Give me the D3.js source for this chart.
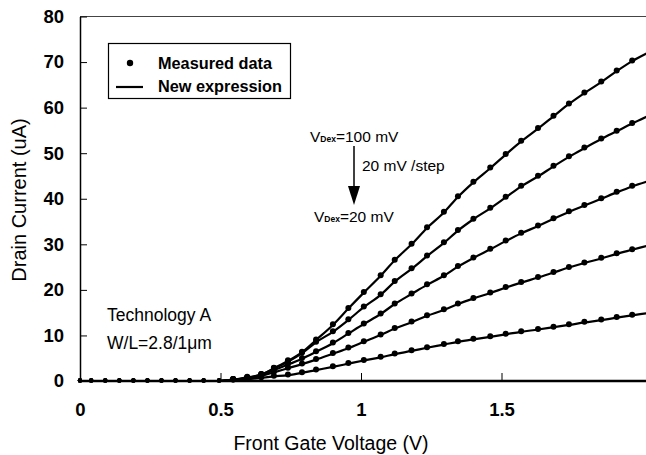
<!DOCTYPE html>
<meta charset="utf-8">
<script src="https://d3js.org/d3.v7.min.js"></script>
<style>
  body { margin: 0; background: #fff; }
  text { font-family: Arial, "Liberation Sans", sans-serif; fill: #000; }
</style>
<body>
<svg width="646" height="455"></svg>
<script>
    // gate voltage of the measured points (V)
    var vg = [0, 0.04, 0.09, 0.14, 0.19, 0.24, 0.29, 0.34, 0.39, 0.44, 0.495, 0.545, 0.595,
              0.645, 0.69, 0.74, 0.79, 0.84, 0.9, 0.955, 1.01, 1.07, 1.12, 1.18, 1.235, 1.295,
              1.345, 1.4, 1.46, 1.515, 1.57, 1.63, 1.685, 1.74, 1.795, 1.855, 1.91, 1.965];

    // drain current (uA) for each drain voltage step
    var id100 = [0, 0, 0, 0, 0, 0, 0, 0, 0, 0, 0, 0.3, 0.8,
                 1.4, 2.8, 4.4, 6.3, 9.0, 12.3, 15.9, 19.4, 23.1, 26.5, 30.0, 33.6, 37.0,
                 40.4, 43.6, 46.7, 49.7, 52.6, 55.4, 58.1, 60.8, 63.2, 65.6, 68.0, 70.2];
    var id80  = [0, 0, 0, 0, 0, 0, 0, 0, 0, 0, 0, 0.3, 0.7,
                 1.4, 2.7, 4.2, 6.1, 8.5, 10.8, 13.4, 16.2, 18.9, 21.8, 24.6, 27.4, 30.3,
                 33.0, 35.5, 37.9, 40.3, 42.7, 44.9, 47.1, 49.2, 51.1, 53.1, 54.8, 56.5];
    var id60  = [0, 0, 0, 0, 0, 0, 0, 0, 0, 0, 0, 0.3, 0.6,
                 1.3, 2.4, 3.6, 4.9, 6.4, 8.3, 10.4, 12.5, 14.7, 16.9, 19.1, 21.1, 23.1,
                 25.1, 27.0, 28.9, 30.7, 32.4, 34.0, 35.6, 37.1, 38.5, 40.0, 41.4, 42.7];
    var id40  = [0, 0, 0, 0, 0, 0, 0, 0, 0, 0, 0, 0.2, 0.5,
                 1.1, 1.9, 2.8, 3.7, 4.7, 6.0, 7.2, 8.6, 10.1, 11.5, 12.9, 14.3, 15.6,
                 16.9, 18.1, 19.3, 20.5, 21.6, 22.7, 23.8, 24.9, 25.9, 26.9, 27.9, 28.8];
    var id20  = [0, 0, 0, 0, 0, 0, 0, 0, 0, 0, 0, 0.2, 0.4,
                 0.7, 1.0, 1.3, 1.8, 2.4, 3.1, 3.8, 4.5, 5.2, 5.9, 6.6, 7.3, 8.0,
                 8.6, 9.15, 9.7, 10.25, 10.8, 11.3, 11.8, 12.3, 12.85, 13.35, 13.9, 14.4];

    // where the model curves leave the frame
    var vgEnd = 2.02;
    var idEnd = [72.0, 58.1, 43.8, 29.7, 14.9];

    var xTicks = [0, 0.5, 1, 1.5];
    var yTicks = [0, 10, 20, 30, 40, 50, 60, 70, 80];

    var series = [id100, id80, id60, id40, id20];

    var svg = d3.select('svg');

    var x = d3.scaleLinear().domain([0, 2]).range([80, 642]);
    var y = d3.scaleLinear().domain([0, 80]).range([381, 16.5]);

    // top frame line
    svg.append('line')
        .attr('x1', x(0)).attr('x2', 646)
        .attr('y1', y(80)).attr('y2', y(80))
        .attr('stroke', '#444').attr('stroke-width', 1);

    // curves (model) and dots (measured)
    var line = d3.line()
        .x(function(d){ return x(d[0]); })
        .y(function(d){ return y(d[1]); })
        .curve(d3.curveMonotoneX);

    series.forEach(function(s, k){
        var pts = vg.map(function(v, i){ return [v, s[i]]; });
        svg.append('path')
            .attr('d', line(pts.concat([[vgEnd, idEnd[k]]])))
            .attr('fill', 'none')
            .attr('stroke', '#000')
            .attr('stroke-width', 2.2);

        svg.append('g').selectAll('circle')
            .data(pts)
            .enter()
            .append('circle')
            .attr('cx', function(d){ return x(d[0]); })
            .attr('cy', function(d){ return y(d[1]) - 0.6; })
            .attr('r', function(d){ return d[1] > 0 ? 3 : 2.2; })
            .attr('fill', '#000');
    });

    // axes
    var yAxis = d3.axisLeft(y)
        .tickValues(yTicks)
        .tickSizeInner(-7)
        .tickSizeOuter(0)
        .tickPadding(16);

    var gy = svg.append('g')
        .attr('transform', 'translate(' + x(0) + ',0)')
        .call(yAxis);
    gy.select('.domain').attr('stroke-width', 1.5);
    gy.selectAll('text')
        .attr('font-size', '18.5px').attr('font-weight', 'bold')
        .attr('font-family', 'Arial, "Liberation Sans", sans-serif');

    var xAxis = d3.axisBottom(x)
        .tickValues(xTicks)
        .tickFormat(function(d){ return String(d); })
        .tickSizeInner(-8)
        .tickSizeOuter(0)
        .tickPadding(22);

    var gx = svg.append('g')
        .attr('transform', 'translate(0,' + y(0) + ')')
        .call(xAxis);
    gx.select('.domain').attr('d', 'M' + x(0) + ',0H646').attr('stroke-width', 2.5);
    gx.selectAll('text')
        .attr('font-size', '18.5px').attr('font-weight', 'bold')
        .attr('font-family', 'Arial, "Liberation Sans", sans-serif');

    // axis titles
    svg.append('text')
        .attr('x', 331).attr('y', 450)
        .attr('text-anchor', 'middle')
        .attr('font-size', '19.5px')
        .text('Front Gate Voltage (V)');

    svg.append('text')
        .attr('transform', 'translate(26,200) rotate(-90)')
        .attr('text-anchor', 'middle')
        .attr('font-size', '20px')
        .text('Drain Current (uA)');

    // legend
    var lg = svg.append('g');
    lg.append('rect')
        .attr('x', 108.5).attr('y', 43.5)
        .attr('width', 182).attr('height', 55)
        .attr('fill', '#fff').attr('stroke', '#000').attr('stroke-width', 1.2);
    lg.append('circle').attr('cx', 130).attr('cy', 63).attr('r', 3.2).attr('fill', '#000');
    lg.append('line')
        .attr('x1', 116).attr('x2', 143).attr('y1', 87).attr('y2', 87)
        .attr('stroke', '#000').attr('stroke-width', 2.2);
    lg.append('text').attr('x', 158).attr('y', 69)
        .attr('font-size', '16.3px').attr('font-weight', 'bold')
        .text('Measured data');
    lg.append('text').attr('x', 158).attr('y', 91.5)
        .attr('font-size', '16.3px').attr('font-weight', 'bold')
        .text('New expression');

    // annotation: drain voltage steps
    function vdex(tx, ty, rest){
        var t = svg.append('text').attr('x', tx).attr('y', ty).attr('font-size', '15.5px');
        t.append('tspan').text('V');
        t.append('tspan').attr('font-size', '8.5px').attr('font-weight', 'bold').text('Dex');
        t.append('tspan').text(rest);
    }
    vdex(310, 142, '=100 mV');
    vdex(314, 221.5, '=20 mV');

    svg.append('line')
        .attr('x1', 354).attr('x2', 354).attr('y1', 146).attr('y2', 192)
        .attr('stroke', '#000').attr('stroke-width', 1.5);
    svg.append('path')
        .attr('d', 'M348,186L360,186L354,205Z')
        .attr('fill', '#000');
    svg.append('text').attr('x', 362).attr('y', 170.5)
        .attr('font-size', '15.5px')
        .text('20 mV /step');

    // device info
    svg.append('text').attr('x', 107).attr('y', 321)
        .attr('font-size', '17.5px').text('Technology A');
    svg.append('text').attr('x', 107).attr('y', 349)
        .attr('font-size', '17.5px').text('W/L=2.8/1\u03bcm');
</script>
</body>
